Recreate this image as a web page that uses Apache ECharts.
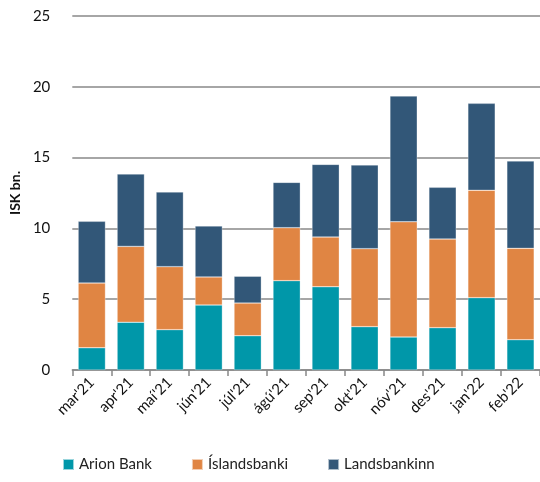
<!DOCTYPE html>
<html>
<head>
<meta charset="utf-8">
<script src="https://cdn.jsdelivr.net/npm/echarts@6/dist/echarts.min.js"></script>
<style>
  html, body { margin: 0; padding: 0; background: #fff; }
  #chart { width: 540px; height: 482px; }
</style>
</head>
<body>
<div id="chart"></div>
<script>
// mánuðir og útlán bankanna (ISK bn.)
let months = ["mar'21", "apr'21", "maí'21", "jún'21", "júl'21", "ágú'21",
    "sep'21", "okt'21", "nóv'21", "des'21", "jan'22", "feb'22"];
let arion = [1.57, 3.37, 2.85, 4.59, 2.42, 6.31, 5.88, 3.06, 2.33, 2.99, 5.11, 2.14];
let islandsbanki = [4.57, 5.36, 4.45, 1.98, 2.31, 3.74, 3.51, 5.51, 8.14, 6.26, 7.58, 6.45];
let landsbankinn = [4.36, 5.11, 5.27, 3.60, 1.89, 3.20, 5.13, 5.91, 8.88, 3.65, 6.14, 6.17];

let chart = echarts.init(document.getElementById('chart'));

function barSeries(name, data, color) {
    return {
        name: name,
        type: 'bar',
        stack: 'total',
        data: data,
        barCategoryGap: '30%',
        itemStyle: {
            color: color,
            borderColor: 'rgba(255,255,255,0.6)',
            borderWidth: 0.5
        }
    };
}

let option = {
    animation: false,
    textStyle: { fontFamily: 'Lato' },
    grid: { left: 72, right: 0, top: 16, bottom: 112 },
    legend: {
        bottom: 5,
        left: 57,
        itemWidth: 11,
        itemHeight: 11,
        itemGap: 39,
        icon: 'rect',
        textStyle: { fontSize: 15, color: '#222', fontFamily: 'Lato' },
        data: ['Arion Bank', 'Íslandsbanki', 'Landsbankinn']
    },
    xAxis: {
        type: 'category',
        data: months,
        axisLine: { lineStyle: { color: '#888', width: 1.5 } },
        axisTick: { show: true, length: 6, lineStyle: { color: '#888', width: 1.5 } },
        axisLabel: { rotate: 45, fontSize: 15, color: '#111', margin: 10, interval: 0 }
    },
    yAxis: {
        type: 'value',
        min: 0,
        max: 25,
        interval: 5,
        name: 'ISK bn.',
        nameLocation: 'middle',
        nameGap: 50,
        nameTextStyle: { fontWeight: 'bold', fontSize: 14, color: '#111' },
        axisLabel: { fontSize: 15, color: '#111', margin: 22 },
        splitLine: { lineStyle: { color: '#888', width: 1.5 } }
    },
    series: [
        barSeries('Arion Bank', arion, '#0097A9'),
        barSeries('Íslandsbanki', islandsbanki, '#E08543'),
        barSeries('Landsbankinn', landsbankinn, '#325778')
    ]
};

chart.setOption(option);
</script>
</body>
</html>
